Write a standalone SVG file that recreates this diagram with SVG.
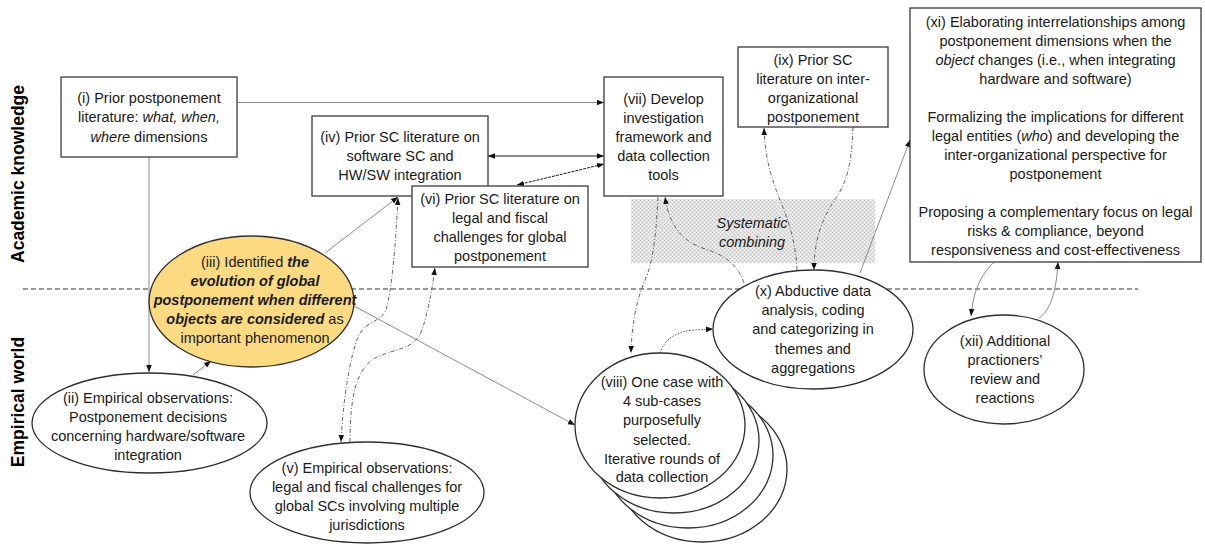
<svg xmlns="http://www.w3.org/2000/svg" width="1205" height="547" viewBox="0 0 1205 547">
<defs>
<style>
.box{fill:#fff;stroke:#3a3a3a;stroke-width:1.3}
.ell{fill:#fff;stroke:#2e2e2e;stroke-width:1.3}
.t{font-family:"Liberation Sans",Arial,sans-serif;font-size:14.5px;fill:#1a1a1a;text-anchor:middle}
.ttl{font-family:"Liberation Sans",Arial,sans-serif;font-size:17.5px;font-weight:bold;fill:#000;text-anchor:middle}
.it{font-style:italic}
.bi{font-style:italic;font-weight:bold}
.grey{stroke:#8c8c8c;stroke-width:1;fill:none}
.dark{stroke:#1a1a1a;stroke-width:1;fill:none}
.dd{stroke:#555;stroke-width:0.9;stroke-dasharray:4 2 1 2;fill:none}
.dot{stroke:#555;stroke-width:1;stroke-dasharray:1.5 1.5;fill:none}
.sep{stroke:#333;stroke-width:1.2;stroke-dasharray:5 3;fill:none}
</style>
<marker id="ah" viewBox="0 0 10 10" refX="10" refY="5" markerWidth="7" markerHeight="7" markerUnits="userSpaceOnUse" orient="auto-start-reverse">
<path d="M0,1 L10,5 L0,9 z" fill="#111"/>
</marker>
<pattern id="dots" width="4" height="4" patternUnits="userSpaceOnUse">
<rect width="4" height="4" fill="#e2e2e2"/>
<rect x="0" y="0" width="1" height="1" fill="#c4c4c4"/>
<rect x="2" y="2" width="1" height="1" fill="#c4c4c4"/>
<rect x="2" y="0" width="1" height="1" fill="#f4f4f4"/>
<rect x="0" y="2" width="1" height="1" fill="#f4f4f4"/>
</pattern>
</defs>

<g id="background">
<rect width="1205" height="547" fill="#fff"/>
<line class="sep" x1="23" y1="289" x2="1138" y2="289"/>
<text class="ttl" transform="translate(24,174) rotate(-90)">Academic knowledge</text>
<text class="ttl" transform="translate(24,402) rotate(-90)">Empirical world</text>
<g id="systematic-combining">
<rect x="631" y="199" width="244" height="64" fill="url(#dots)"/>
<text class="t it" x="752" y="228" fill="#333">Systematic</text>
<text class="t it" x="752" y="247" fill="#333">combining</text>
</g>
</g>

<g id="connectors">
<line class="grey" x1="237" y1="102.5" x2="604" y2="102.5" marker-end="url(#ah)"/>
<line class="grey" x1="149" y1="157" x2="149" y2="372" marker-end="url(#ah)"/>
<line class="grey" x1="193" y1="375" x2="211" y2="361" marker-end="url(#ah)"/>
<line class="grey" x1="325" y1="253" x2="398" y2="197" marker-end="url(#ah)"/>
<line class="grey" x1="354" y1="306" x2="575" y2="425" marker-end="url(#ah)"/>
<line class="dark" x1="488" y1="156" x2="604" y2="156" marker-start="url(#ah)" marker-end="url(#ah)"/>
<line class="dark" x1="517" y1="185" x2="604" y2="164" marker-start="url(#ah)" marker-end="url(#ah)" stroke-dasharray="3 1"/>
<path class="dd" d="M398,198 C396,240 392,290 386,310 C381,322 366,321 359,335 C350,355 343,400 341,442" marker-start="url(#ah)" marker-end="url(#ah)"/>
<path class="dd" d="M350,442 C350,400 355,370 375,358 C395,348 415,350 422,330 C428,312 432,290 435,268" marker-end="url(#ah)"/>
<path class="dd" d="M658,197 C656,240 652,265 645,280 C637,300 632,320 631,353" marker-end="url(#ah)"/>
<path class="dd" d="M744,283 C738,265 725,255 705,249 C685,242 670,230 665,197" marker-end="url(#ah)"/>
<path class="dot" d="M660,353 C664,340 675,332 693,330 L713,329" marker-end="url(#ah)"/>
<path class="dd" d="M797,270 C796,245 790,225 782,205 C772,180 765,160 764,128" marker-end="url(#ah)"/>
<path class="dd" d="M853,127 C852,160 848,180 836,198 C822,218 814,240 814,270" marker-end="url(#ah)"/>
<line class="grey" x1="860" y1="273" x2="910" y2="140" marker-end="url(#ah)"/>
<path class="grey" d="M994,262 C984,272 974,285 971,316" marker-end="url(#ah)"/>
<path class="grey" d="M1039,318 C1050,310 1056,295 1058,262" marker-end="url(#ah)"/>
</g>

<g id="node-i">
<rect class="box" x="61" y="77" width="176" height="80"/>
<text class="t" x="149" y="103">(i) Prior postponement</text>
<text class="t" x="149" y="122">literature: <tspan class="it">what, when,</tspan></text>
<text class="t" x="149" y="142"><tspan class="it">where</tspan> dimensions</text>
</g>

<g id="node-iv">
<rect class="box" x="312" y="116" width="176" height="80"/>
<text class="t" x="400" y="142">(iv) Prior SC literature on</text>
<text class="t" x="400" y="161">software SC and</text>
<text class="t" x="400" y="180">HW/SW integration</text>
</g>

<g id="node-vi">
<rect class="box" x="412" y="186" width="176" height="81"/>
<text class="t" x="500" y="204">(vi) Prior SC literature on</text>
<text class="t" x="500" y="223">legal and fiscal</text>
<text class="t" x="500" y="242">challenges for global</text>
<text class="t" x="500" y="261">postponement</text>
</g>

<g id="node-vii">
<rect class="box" x="604" y="77" width="119" height="119"/>
<text class="t" x="663.5" y="104">(vii) Develop</text>
<text class="t" x="663.5" y="123">investigation</text>
<text class="t" x="663.5" y="142">framework and</text>
<text class="t" x="663.5" y="161">data collection</text>
<text class="t" x="663.5" y="180">tools</text>
</g>

<g id="node-ix">
<rect class="box" x="738" y="47" width="150" height="80"/>
<text class="t" x="813" y="65">(ix) Prior SC</text>
<text class="t" x="813" y="84">literature on inter-</text>
<text class="t" x="813" y="103">organizational</text>
<text class="t" x="813" y="122">postponement</text>
</g>

<g id="node-xi">
<rect class="box" x="910" y="8" width="291" height="254"/>
<text class="t" x="1055.5" y="27">(xi) Elaborating interrelationships among</text>
<text class="t" x="1055.5" y="46">postponement dimensions when the</text>
<text class="t" x="1055.5" y="65"><tspan class="it">object</tspan> changes (i.e., when integrating</text>
<text class="t" x="1055.5" y="84">hardware and software)</text>
<text class="t" x="1055.5" y="122">Formalizing the implications for different</text>
<text class="t" x="1055.5" y="141">legal entities (<tspan class="it">who</tspan>) and developing the</text>
<text class="t" x="1055.5" y="160">inter-organizational perspective for</text>
<text class="t" x="1055.5" y="179">postponement</text>
<text class="t" x="1055.5" y="217">Proposing a complementary focus on legal</text>
<text class="t" x="1055.5" y="236">risks &amp; compliance, beyond</text>
<text class="t" x="1055.5" y="255">responsiveness and cost-effectiveness</text>
</g>

<g id="node-iii">
<ellipse cx="251.5" cy="301.5" rx="102.5" ry="65.5" fill="#fcda82" stroke="#2e2e2e" stroke-width="1.3"/>
<text class="t" x="255" y="267">(iii) Identified <tspan class="bi">the</tspan></text>
<text class="t bi" x="255" y="286">evolution of global</text>
<text class="t bi" x="255" y="305">postponement when different</text>
<text class="t" x="255" y="324"><tspan class="bi">objects are considered</tspan> as</text>
<text class="t" x="255" y="343">important phenomenon</text>
</g>

<g id="node-ii">
<ellipse class="ell" cx="149.5" cy="423" rx="117.5" ry="50"/>
<text class="t" x="148" y="403">(ii) Empirical observations:</text>
<text class="t" x="148" y="422">Postponement decisions</text>
<text class="t" x="148" y="441">concerning hardware/software</text>
<text class="t" x="148" y="460">integration</text>
</g>

<g id="node-v">
<ellipse class="ell" cx="367" cy="492.5" rx="117" ry="50.5"/>
<text class="t" x="367" y="473">(v) Empirical observations:</text>
<text class="t" x="367" y="492">legal and fiscal challenges for</text>
<text class="t" x="367" y="511">global SCs involving multiple</text>
<text class="t" x="367" y="530">jurisdictions</text>
</g>

<g id="node-viii">
<ellipse class="ell" cx="702" cy="469.5" rx="85" ry="72.5"/>
<ellipse class="ell" cx="688" cy="455.5" rx="85" ry="72.5"/>
<ellipse class="ell" cx="674" cy="440.5" rx="85" ry="72.5"/>
<ellipse class="ell" cx="660" cy="425.5" rx="85" ry="72.5"/>
<text class="t" x="662" y="387">(viii) One case with</text>
<text class="t" x="662" y="406">4 sub-cases</text>
<text class="t" x="662" y="425">purposefully</text>
<text class="t" x="662" y="445">selected.</text>
<text class="t" x="662" y="464">Iterative rounds of</text>
<text class="t" x="662" y="482">data collection</text>
</g>

<g id="node-x">
<ellipse class="ell" cx="813" cy="329.5" rx="100" ry="59.5"/>
<text class="t" x="813" y="296">(x) Abductive data</text>
<text class="t" x="813" y="315">analysis, coding</text>
<text class="t" x="813" y="334">and categorizing in</text>
<text class="t" x="813" y="354">themes and</text>
<text class="t" x="813" y="373">aggregations</text>
</g>

<g id="node-xii">
<ellipse class="ell" cx="1004" cy="369.5" rx="80" ry="54.5"/>
<text class="t" x="1005" y="345.5">(xii) Additional</text>
<text class="t" x="1005" y="364.5">practioners’</text>
<text class="t" x="1005" y="383.5">review and</text>
<text class="t" x="1005" y="402.5">reactions</text>
</g>
</svg>
